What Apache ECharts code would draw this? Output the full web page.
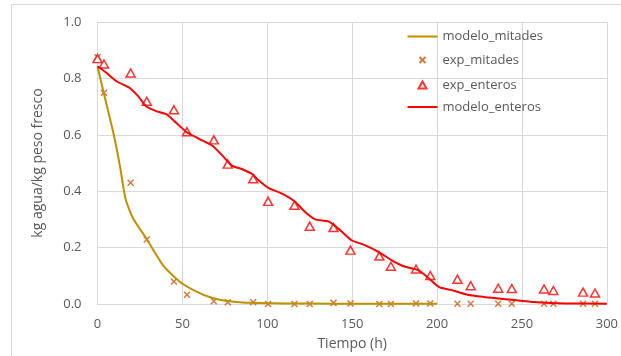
<!DOCTYPE html>
<html>
<head>
<meta charset="UTF-8">
<title>secado</title>
<script src="https://cdn.jsdelivr.net/npm/echarts@6/dist/echarts.min.js"></script>
</head>
<body style="margin:0">
<div id="chart" style="width:621px;height:356px;"></div>
<script type="text/javascript">
// datos: tiempo (h), kg agua/kg peso fresco
var tExp = [0, 3.8, 19.5, 29, 45, 52.7, 68.5, 76.7, 91.7, 100.5, 116, 125, 139, 149, 166, 172.8, 187.6, 196,
            212, 219.8, 236, 244, 263, 268.5, 286, 293];
var expMitades = [0.875, 0.749, 0.43, 0.229, 0.08, 0.033, 0.01, 0.006, 0.006, 0, 0, 0, 0.004, 0.002, 0, 0, 0.002, 0.002,
                  0.001, 0.001, 0.001, 0.001, 0.001, 0.001, 0.001, 0.001];
var expEnteros = [0.87, 0.851, 0.819, 0.719, 0.689, 0.611, 0.582, 0.496, 0.444, 0.364, 0.35, 0.276, 0.271, 0.191, 0.17, 0.134, 0.124, 0.101,
                  0.088, 0.065, 0.056, 0.055, 0.053, 0.048, 0.042, 0.039];

var tModMitades = [0, 4, 9.3, 13.2, 16.5, 21, 28.8, 38.5, 48.2, 58, 67.7, 77.5, 91, 110, 140, 170, 200];
var modMitades = [0.843, 0.74, 0.608, 0.49, 0.373, 0.303, 0.232, 0.138, 0.08, 0.045, 0.021, 0.01, 0.004, 0.002, 0.001, 0.001, 0.001];

var tModEnteros = [0, 5.4, 11.2, 19, 23.9, 28.8, 34.6, 40.5, 46.3, 52.2, 60, 67.7, 73.6, 79.4, 85.3, 91.1, 95, 100.9, 108.7, 116.5,
                   122.3, 128.2, 136, 141.8, 149.6, 157.4, 165.2, 173, 180.8, 188.6, 194.4, 201.3, 208, 217.8, 227.6, 237.3,
                   247, 256.8, 266.5, 276, 300];
var modEnteros = [0.843, 0.819, 0.79, 0.766, 0.737, 0.7, 0.684, 0.673, 0.643, 0.611, 0.585, 0.561, 0.526, 0.49, 0.478, 0.461, 0.438, 0.411, 0.391, 0.362,
                  0.326, 0.3, 0.293, 0.268, 0.226, 0.209, 0.186, 0.156, 0.133, 0.121, 0.095, 0.06, 0.05, 0.033, 0.025, 0.019,
                  0.013, 0.007, 0.0035, 0.002, 0.001];

function pares(xs, ys) {
	var r = [];
	for (var i = 0; i < xs.length; i++) {
		r.push([xs[i], ys[i]]);
	}
	return r;
}

var FONT = 'Open Sans';
var GRIS = '#595959';
var CRUZ = 'path://M0,0L10,10M10,0L0,10';
// iconos de leyenda: caja 30x14 con la marca pequeña al centro
var ICONO_CRUZ = 'path://M0,0L0,0M12,4L18,10M18,4L12,10M30,14L30,14';
var ICONO_TRIANGULO = 'path://M0,0L0,0M15,3.5L19,10.5L11,10.5ZM30,14L30,14';

var myChart = echarts.init(document.getElementById('chart'));
var option = {
	animation: false,
	backgroundColor: '#fff',
	graphic: [{
		type: 'rect',
		shape: { x: 11.5, y: 4.5, width: 620, height: 360 },
		style: { fill: 'none', stroke: '#D9D9D9', lineWidth: 1 },
		silent: true
	}],
	grid: { left: 97.5, right: 10.5, top: 22, bottom: 50 },
	legend: {
		orient: 'vertical',
		left: 400,
		top: 25,
		itemWidth: 30,
		itemHeight: 14,
		itemGap: 7.5,
		textStyle: { fontFamily: FONT, fontSize: 13, color: GRIS },
		data: [
			{ name: 'modelo_mitades', icon: 'line' },
			{ name: 'exp_mitades', icon: ICONO_CRUZ },
			{ name: 'exp_enteros', icon: ICONO_TRIANGULO },
			{ name: 'modelo_enteros', icon: 'line' }
		]
	},
	xAxis: {
		type: 'value',
		min: 0,
		max: 300,
		interval: 50,
		name: 'Tiempo (h)',
		nameLocation: 'middle',
		nameGap: 33,
		nameTextStyle: { fontFamily: FONT, fontSize: 14, color: GRIS },
		axisLine: { lineStyle: { color: '#D9D9D9' } },
		axisTick: { show: false },
		axisLabel: { fontFamily: FONT, fontSize: 13, color: GRIS, margin: 14 },
		splitLine: { lineStyle: { color: '#D9D9D9' } }
	},
	yAxis: {
		type: 'value',
		min: 0,
		max: 1,
		interval: 0.2,
		name: 'kg agua/kg peso fresco',
		nameLocation: 'middle',
		nameGap: 52,
		nameTextStyle: { fontFamily: FONT, fontSize: 14, color: GRIS },
		axisLine: { show: false },
		axisTick: { show: false },
		axisLabel: {
			fontFamily: FONT, fontSize: 13, color: GRIS, margin: 16,
			formatter: function (v) { return v.toFixed(1); }
		},
		splitLine: { lineStyle: { color: '#D9D9D9' } }
	},
	series: [{
		name: 'modelo_mitades',
		type: 'line',
		smooth: 0.2,
		symbol: 'none',
		lineStyle: { color: '#BF9000', width: 2 },
		itemStyle: { color: '#BF9000', borderColor: '#BF9000', borderWidth: 2 },
		data: pares(tModMitades, modMitades)
	}, {
		name: 'exp_mitades',
		type: 'scatter',
		symbol: CRUZ,
		symbolSize: 6,
		itemStyle: { color: 'none', borderColor: '#C55A11', borderWidth: 1.5 },
		data: pares(tExp, expMitades)
	}, {
		name: 'exp_enteros',
		type: 'scatter',
		symbol: 'triangle',
		symbolSize: [9, 8],
		itemStyle: { color: '#fff', borderColor: '#FF0000', borderWidth: 1.5 },
		data: pares(tExp, expEnteros)
	}, {
		name: 'modelo_enteros',
		type: 'line',
		smooth: 0.2,
		symbol: 'none',
		lineStyle: { color: '#FF0000', width: 2 },
		itemStyle: { color: '#FF0000', borderColor: '#FF0000', borderWidth: 2 },
		data: pares(tModEnteros, modEnteros)
	}]
};
myChart.setOption(option);
</script>
</body>
</html>
